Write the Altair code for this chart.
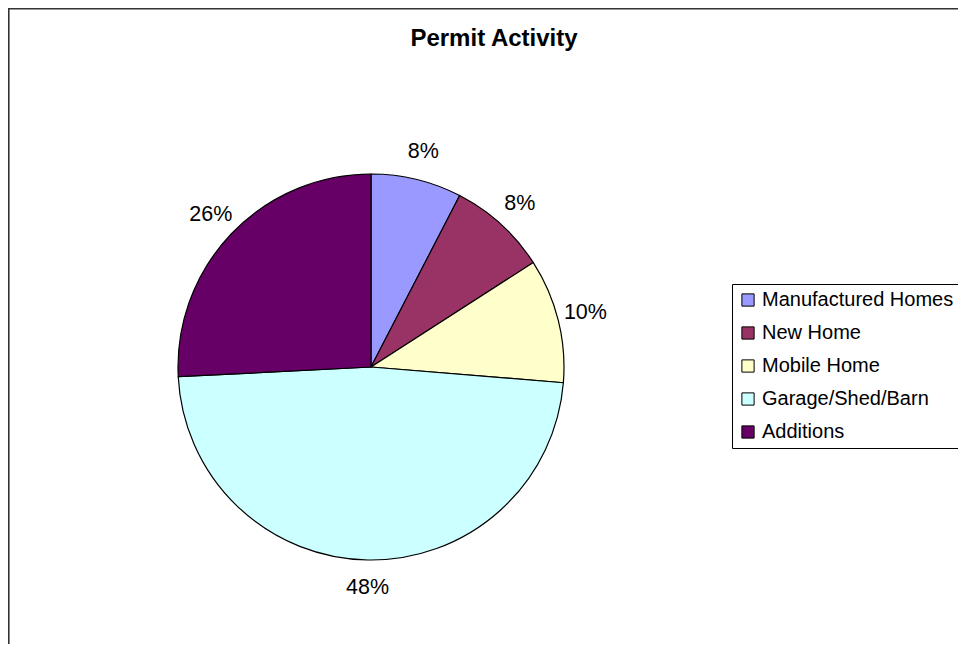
import altair as alt
import pandas as pd

title_text = "Permit Activity"
categories = ["Manufactured Homes", "New Home", "Mobile Home", "Garage/Shed/Barn", "Additions"]
values = [7.6, 8.3, 10.4, 47.9, 25.8]
colors = ["#9999FF", "#993366", "#FFFFCC", "#CCFFFF", "#660066"]

df = pd.DataFrame({"category": categories, "value": values, "idx": list(range(len(categories)))})

FONT = "Liberation Sans"
W, H = 950, 636
CX, CY = 363, 359

base = alt.Chart(df).transform_joinaggregate(total="sum(value)").transform_calculate(
    label="format(datum.value / datum.total, '.0%')"
)

pie = base.mark_arc(stroke="black", strokeWidth=1.2, radius=193).encode(
    theta=alt.Theta("value:Q", stack=True),
    order=alt.Order("idx:Q"),
    color=alt.Color(
        "category:N",
        scale=alt.Scale(domain=categories, range=colors),
        sort=categories,
        legend=alt.Legend(
            title=None,
            orient="none",
            legendX=724,
            legendY=276,
            symbolType="square",
            symbolSize=150,
            symbolStrokeColor="black",
            symbolStrokeWidth=1,
            labelFont=FONT,
            labelFontSize=20,
            labelColor="black",
            labelLimit=400,
            labelOffset=4,
            rowPadding=13,
            padding=6,
            strokeColor="black",
            fillColor="white",
            cornerRadius=0,
        ),
    ),
    x=alt.value(CX),
    y=alt.value(CY),
)

labels = base.mark_text(radius=221, font=FONT, fontSize=21.5, color="black",
                        align="center", baseline="middle").encode(
    theta=alt.Theta("value:Q", stack=True),
    order=alt.Order("idx:Q"),
    text="label:N",
    x=alt.value(CX),
    y=alt.value(CY),
)

title = alt.Chart(pd.DataFrame({"t": [title_text]})).mark_text(
    font=FONT, fontSize=24, fontWeight="bold", color="black", align="center", baseline="middle"
).encode(text="t:N", x=alt.value(486), y=alt.value(31))

border_df = pd.DataFrame({"k": ["b"]})
top_line = alt.Chart(border_df).mark_rule(color="#333333", strokeWidth=1.6).encode(
    x=alt.value(0), x2=alt.value(W), y=alt.value(0.8)
)
left_line = alt.Chart(border_df).mark_rule(color="#333333", strokeWidth=1.6).encode(
    x=alt.value(0.8), y=alt.value(0), y2=alt.value(H)
)

chart = alt.layer(pie, labels, title, top_line, left_line).properties(
    width=W, height=H, autosize=alt.AutoSizeParams(type="none"), padding=0
).configure_view(stroke=None).configure(background="white")

chart.save("out.html", embed_options={"renderer": "svg", "actions": False})
